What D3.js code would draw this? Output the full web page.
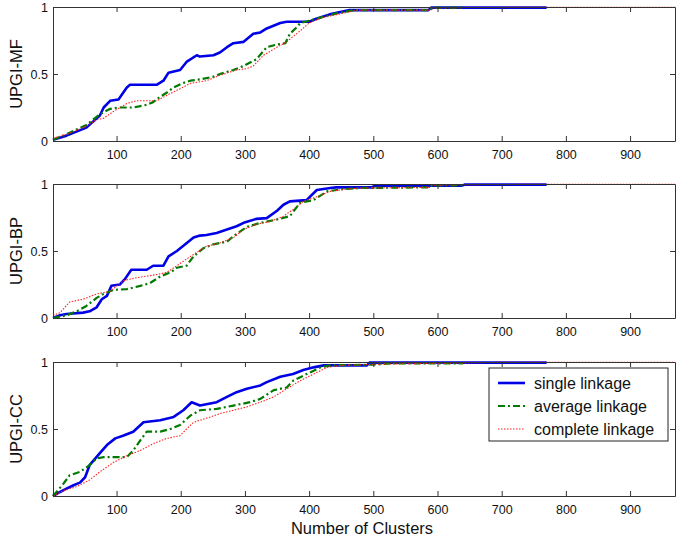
<!DOCTYPE html>
<html>
<head>
<meta charset="utf-8">
<script src="https://cdn.jsdelivr.net/npm/d3@7"></script>
<style>
  body { margin: 0; background: #fff; }
  text { font-family: "Liberation Sans", Arial, sans-serif; }
</style>
</head>
<body>
<svg id="chart" width="685" height="543"></svg>
<script>
// cumulative fraction vs number of clusters, [clusters, fraction]
const mfSingle = [[1,0.01],[22,0.04],[53,0.10],[74,0.19],[80,0.25],[90,0.30],[103,0.31],[116,0.40],[121,0.42],
  [163,0.42],[173,0.45],[181,0.51],[199,0.53],[209,0.59],[225,0.64],[230,0.63],[251,0.64],[261,0.66],[272,0.70],[282,0.73],
  [298,0.74],[313,0.80],[324,0.81],[334,0.84],[355,0.88],[365,0.89],[400,0.89],[410,0.91],[432,0.945],[463,0.977],
  [586,0.977],[590,0.995],[770,0.995]];
const mfAverage = [[1,0.01],[22,0.05],[53,0.12],[74,0.20],[90,0.24],[103,0.25],[126,0.25],[147,0.27],[157,0.29],[168,0.33],
  [178,0.36],[189,0.40],[202,0.43],[215,0.45],[230,0.46],[251,0.48],[261,0.50],[282,0.53],[298,0.56],[318,0.61],
  [334,0.70],[350,0.72],[363,0.73],[370,0.80],[381,0.85],[386,0.88],[402,0.90],[440,0.95],[470,0.977],[588,0.977],
  [592,0.995],[640,0.995]];
const mfComplete = [[1,0.02],[22,0.05],[53,0.11],[69,0.16],[80,0.17],[95,0.22],[116,0.28],[131,0.30],[163,0.30],[178,0.34],
  [199,0.39],[215,0.43],[240,0.45],[261,0.49],[287,0.53],[303,0.54],[313,0.56],[329,0.64],[350,0.70],[365,0.74],
  [375,0.78],[388,0.83],[400,0.88],[420,0.92],[450,0.95],[475,0.977],[590,0.977],[594,0.995],[770,0.998],[970,0.998]];

const bpSingle = [[1,0],[12,0.02],[22,0.03],[48,0.04],[58,0.05],[69,0.08],[77,0.14],[85,0.165],[92,0.24],[105,0.25],
  [113,0.29],[123,0.36],[147,0.36],[157,0.39],[173,0.39],[181,0.46],[194,0.50],[207,0.55],[220,0.60],[230,0.615],[240,0.62],[256,0.635],
  [272,0.66],[287,0.685],[298,0.71],[318,0.74],[334,0.745],[350,0.80],[360,0.845],[370,0.87],[396,0.88],[412,0.955],
  [433,0.97],[442,0.975],[498,0.975],[502,0.988],[638,0.988],[642,0.995],[770,0.995]];
const bpAverage = [[1,0],[22,0.02],[38,0.05],[53,0.09],[69,0.15],[80,0.18],[95,0.21],[116,0.215],[137,0.24],[152,0.26],
  [168,0.31],[184,0.34],[194,0.375],[209,0.39],[220,0.46],[235,0.52],[251,0.55],[272,0.57],[282,0.61],[303,0.68],
  [324,0.71],[350,0.735],[370,0.76],[386,0.86],[407,0.88],[428,0.945],[450,0.96],[480,0.97],[588,0.975],[592,0.99],[640,0.99]];
const bpComplete = [[1,0.02],[12,0.04],[27,0.12],[48,0.14],[69,0.18],[90,0.20],[111,0.28],[131,0.30],[163,0.325],
  [178,0.34],[194,0.39],[209,0.44],[225,0.49],[240,0.535],[261,0.56],[282,0.60],[298,0.66],[318,0.70],[339,0.72],
  [360,0.76],[375,0.81],[391,0.87],[412,0.905],[433,0.945],[455,0.96],[480,0.97],[588,0.975],[592,0.99],[640,0.995],
  [770,0.998],[970,0.998]];

const ccSingle = [[1,0],[12,0.03],[22,0.055],[33,0.08],[43,0.10],[51,0.14],[58,0.23],[74,0.32],[85,0.38],[98,0.43],
  [110,0.45],[126,0.48],[142,0.55],[168,0.565],[189,0.59],[204,0.64],[217,0.70],[230,0.675],[256,0.70],[272,0.74],
  [287,0.775],[303,0.80],[324,0.825],[334,0.85],[355,0.89],[375,0.91],[391,0.94],[407,0.96],[423,0.975],[490,0.975],
  [494,0.995],[770,0.995]];
const ccAverage = [[1,0],[17,0.09],[27,0.155],[43,0.18],[58,0.23],[69,0.28],[80,0.29],[116,0.29],[126,0.34],[137,0.415],[147,0.48],
  [168,0.48],[184,0.50],[199,0.53],[215,0.60],[230,0.64],[256,0.65],[282,0.675],[308,0.70],[324,0.725],[345,0.79],[365,0.81],
  [375,0.86],[396,0.91],[418,0.96],[433,0.975],[500,0.98],[530,0.99],[640,0.99]];
const ccComplete = [[1,0],[17,0.04],[38,0.07],[58,0.12],[74,0.18],[95,0.25],[116,0.30],[137,0.34],[157,0.39],[178,0.43],
  [199,0.45],[209,0.50],[220,0.55],[240,0.58],[261,0.615],[282,0.64],[303,0.665],[324,0.70],[345,0.74],[365,0.80],
  [386,0.86],[407,0.91],[428,0.96],[450,0.975],[520,0.985],[600,0.99],[700,0.998],[970,0.998]];

const panelNames = ['UPGI-MF', 'UPGI-BP', 'UPGI-CC'];
const panelData = [
  [mfSingle, mfAverage, mfComplete],
  [bpSingle, bpAverage, bpComplete],
  [ccSingle, ccAverage, ccComplete],
];
const seriesNames = ['single linkage', 'average linkage', 'complete linkage'];
const xTicks = [100, 200, 300, 400, 500, 600, 700, 800, 900];
const yTicks = [0, 0.5, 1];

const seriesStyles = [
  { color: '#0000e6', width: 2.6, dash: null },
  { color: '#007a00', width: 2.2, dash: '7,3,2,3' },
  { color: '#ff2020', width: 1.1, dash: '1.5,1.5' },
];

const svg = d3.select('#chart');
const left = 53, right = 675;
const panelTops = [7, 184, 362];
const panelHeight = 134;

let x = d3.scaleLinear().domain([1, 970]).range([left, right]);

panelTops.forEach((top, i) => {
  let y = d3.scaleLinear().domain([0, 1]).range([top + panelHeight, top]);
  let g = svg.append('g');

  let line = d3.line()
    .x(d => x(d[0]))
    .y(d => y(d[1]));

  panelData[i].forEach((series, s) => {
    let st = seriesStyles[s];
    g.append('path')
      .datum(series)
      .attr('d', line)
      .attr('fill', 'none')
      .attr('stroke', st.color)
      .attr('stroke-width', st.width)
      .attr('stroke-linejoin', 'round')
      .attr('stroke-dasharray', st.dash);
  });

  // axes with inward ticks, matlab box style
  let bottom = g.append('g').attr('transform', `translate(0,${top + panelHeight})`)
    .call(d3.axisBottom(x).tickValues(xTicks).tickSizeInner(-5).tickSizeOuter(0).tickPadding(9));
  let topAxis = g.append('g').attr('transform', `translate(0,${top})`)
    .call(d3.axisTop(x).tickValues(xTicks).tickSizeInner(-5).tickSizeOuter(0).tickFormat(''));
  let leftAxis = g.append('g').attr('transform', `translate(${left},0)`)
    .call(d3.axisLeft(y).tickValues(yTicks).tickSizeInner(-5).tickSizeOuter(0).tickPadding(10)
      .tickFormat(d => d === 0.5 ? '0.5' : d3.format('d')(d)));
  let rightAxis = g.append('g').attr('transform', `translate(${right},0)`)
    .call(d3.axisRight(y).tickValues(yTicks).tickSizeInner(-5).tickSizeOuter(0).tickFormat(''));

  [bottom, topAxis, leftAxis, rightAxis].forEach(a => {
    a.select('.domain').attr('stroke', '#333').attr('stroke-width', 1);
    a.selectAll('.tick line').attr('stroke', '#333');
    a.selectAll('.tick text')
      .attr('fill', '#111')
      .style('font-size', '12.5px')
      .style('font-family', '"Liberation Sans", Arial, sans-serif');
  });
  leftAxis.selectAll('.tick text').attr('dx', 5);

  svg.append('text')
    .attr('transform', `translate(22,${top + panelHeight / 2}) rotate(-90)`)
    .attr('text-anchor', 'middle')
    .style('font-size', '16.5px')
    .attr('fill', '#111')
    .text(panelNames[i]);
});

svg.append('text')
  .attr('x', 362)
  .attr('y', 534)
  .attr('text-anchor', 'middle')
  .style('font-size', '16.5px')
  .attr('fill', '#111')
  .text('Number of Clusters');

// legend in the last panel
let legend = svg.append('g').attr('transform', 'translate(489,368)');
legend.append('rect')
  .attr('width', 179).attr('height', 73)
  .attr('fill', '#fff').attr('stroke', '#222').attr('stroke-width', 1);
seriesNames.forEach((name, s) => {
  let st = seriesStyles[s];
  let cy = 15 + s * 23;
  legend.append('line')
    .attr('x1', 9).attr('x2', 36).attr('y1', cy).attr('y2', cy)
    .attr('stroke', st.color)
    .attr('stroke-width', st.width)
    .attr('stroke-dasharray', st.dash);
  legend.append('text')
    .attr('x', 45).attr('y', cy + 5.5)
    .style('font-size', '16px')
    .attr('fill', '#111')
    .text(name);
});
</script>
</body>
</html>
